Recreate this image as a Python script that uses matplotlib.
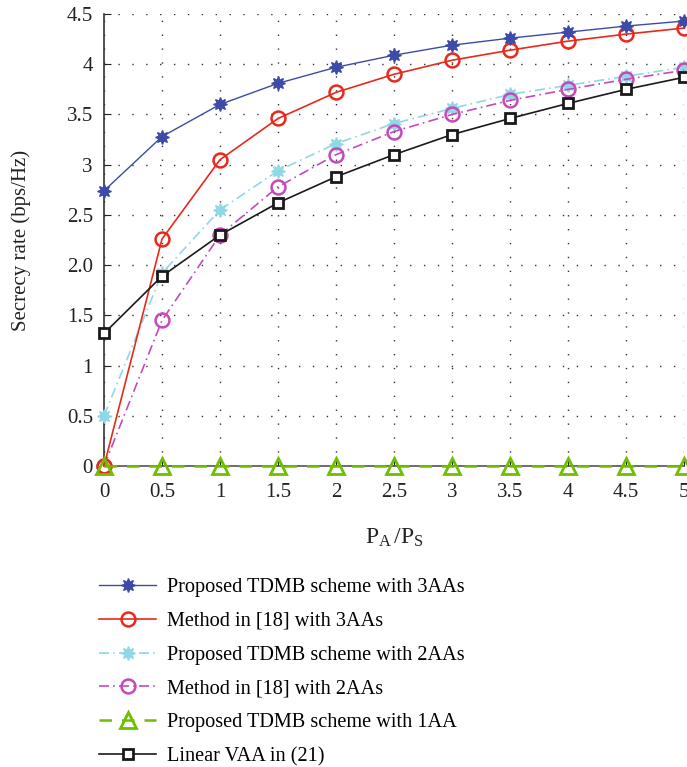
import numpy as np
import matplotlib
matplotlib.use("Agg")
import matplotlib.pyplot as plt

plt.rcParams["font.family"] = ["Liberation Serif", "DejaVu Serif"]
plt.rcParams["mathtext.fontset"] = "custom"
plt.rcParams["mathtext.rm"] = "Liberation Serif"
plt.rcParams["mathtext.it"] = "Liberation Serif:italic"

# power ratio PA/PS
ratio = [0, 0.5, 1, 1.5, 2, 2.5, 3, 3.5, 4, 4.5, 5]

# secrecy rate (bps/Hz) for each scheme
tdmb_3aa = [2.74, 3.28, 3.60, 3.81, 3.97, 4.09, 4.19, 4.26, 4.32, 4.38, 4.43]
ref18_3aa = [0.0, 2.26, 3.05, 3.46, 3.72, 3.90, 4.04, 4.14, 4.23, 4.30, 4.36]
tdmb_2aa = [0.50, 1.92, 2.55, 2.94, 3.21, 3.41, 3.56, 3.70, 3.79, 3.88, 3.97]
ref18_2aa = [0.0, 1.45, 2.30, 2.78, 3.10, 3.33, 3.50, 3.64, 3.75, 3.85, 3.94]
tdmb_1aa = [0, 0, 0, 0, 0, 0, 0, 0, 0, 0, 0]
linear_vaa = [1.32, 1.89, 2.30, 2.62, 2.88, 3.10, 3.30, 3.46, 3.61, 3.75, 3.87]

labels = [
    "Proposed TDMB scheme with 3AAs",
    "Method in [18] with 3AAs",
    "Proposed TDMB scheme with 2AAs",
    "Method in [18] with 2AAs",
    "Proposed TDMB scheme with 1AA",
    "Linear VAA in (21)",
]

yticks = [0, 0.5, 1, 1.5, 2, 2.5, 3, 3.5, 4, 4.5]
yticklabels = ["0", "0.5", "1", "1.5", "2.0", "2.5", "3", "3.5", "4", "4.5"]
xticks = [0, 0.5, 1, 1.5, 2, 2.5, 3, 3.5, 4, 4.5, 5]
xticklabels = ["0", "0.5", "1", "1.5", "2", "2.5", "3", "3.5", "4", "4.5", "5"]

fig = plt.figure(figsize=(6.87, 7.67), dpi=100)
ax = fig.add_axes([0.1514, 0.3924, 0.8442, 0.5893])

star = (8, 1, 0)
ax.plot(ratio, tdmb_3aa, color="#3d4aa8", lw=1.0, marker=star, ms=10,
        mfc="#3d4aa8", mec="#3d4aa8", label=labels[0], clip_on=False, zorder=6)
ax.plot(ratio, ref18_3aa, color="#e8291c", lw=1.2, marker="o", ms=10,
        mfc="none", mec="#e8291c", mew=1.8, label=labels[1], clip_on=False, zorder=5)
ax.plot(ratio, tdmb_2aa, color="#8fd8e6", lw=1.2, ls=(0, (6, 2.5, 1, 2.5)), marker=star, ms=10,
        mfc="#8fd8e6", mec="#8fd8e6", label=labels[2], clip_on=False, zorder=4)
ax.plot(ratio, ref18_2aa, color="#c549b8", lw=1.2, ls=(0, (6, 2.5, 1, 2.5)), marker="o", ms=10,
        mfc="none", mec="#c549b8", mew=1.8, label=labels[3], clip_on=False, zorder=4)
ax.plot(ratio, tdmb_1aa, color="#6fbf00", lw=1.8, ls=(0, (5, 4)), marker="^", ms=11,
        mfc="none", mec="#6fbf00", mew=2.0, label=labels[4], clip_on=False, zorder=7)
ax.plot(ratio, linear_vaa, color="#1a1a1a", lw=1.2, marker="s", ms=7.5,
        mfc="white", mec="#1a1a1a", mew=2.0, label=labels[5], clip_on=False, zorder=6)

ax.set_xlim(0, 5)
ax.set_ylim(0, 4.5)
ax.set_xticks(xticks)
ax.set_xticklabels(xticklabels)
ax.set_yticks(yticks)
ax.set_yticklabels(yticklabels)
ax.tick_params(direction="in", length=5, labelsize=15, colors="#222222")
ax.tick_params(axis="x", pad=12)
ax.tick_params(axis="y", pad=8)
ax.grid(True, ls=(0, (1, 9)), color="#333333", lw=1.0)

for side in ["top", "right"]:
    ax.spines[side].set_visible(False)
ax.spines["left"].set_color("#333333")
ax.spines["bottom"].set_color("#555555")
ax.spines["left"].set_linewidth(1.2)
ax.spines["bottom"].set_linewidth(1.2)

ax.set_ylabel("Secrecy rate (bps/Hz)", fontsize=15, color="#222222", labelpad=26)
ax.set_xlabel(r"$\mathregular{P_A\,/P_S}$", fontsize=17, color="#222222", labelpad=18)

handles, labs = ax.get_legend_handles_labels()
fig.legend(handles, labs, loc="upper left", bbox_to_anchor=(0.133, 0.257),
           frameon=False, fontsize=14.6, handlelength=2.8, handletextpad=0.55,
           labelspacing=0.72, borderaxespad=0)

fig.savefig("out.png", dpi=100)
